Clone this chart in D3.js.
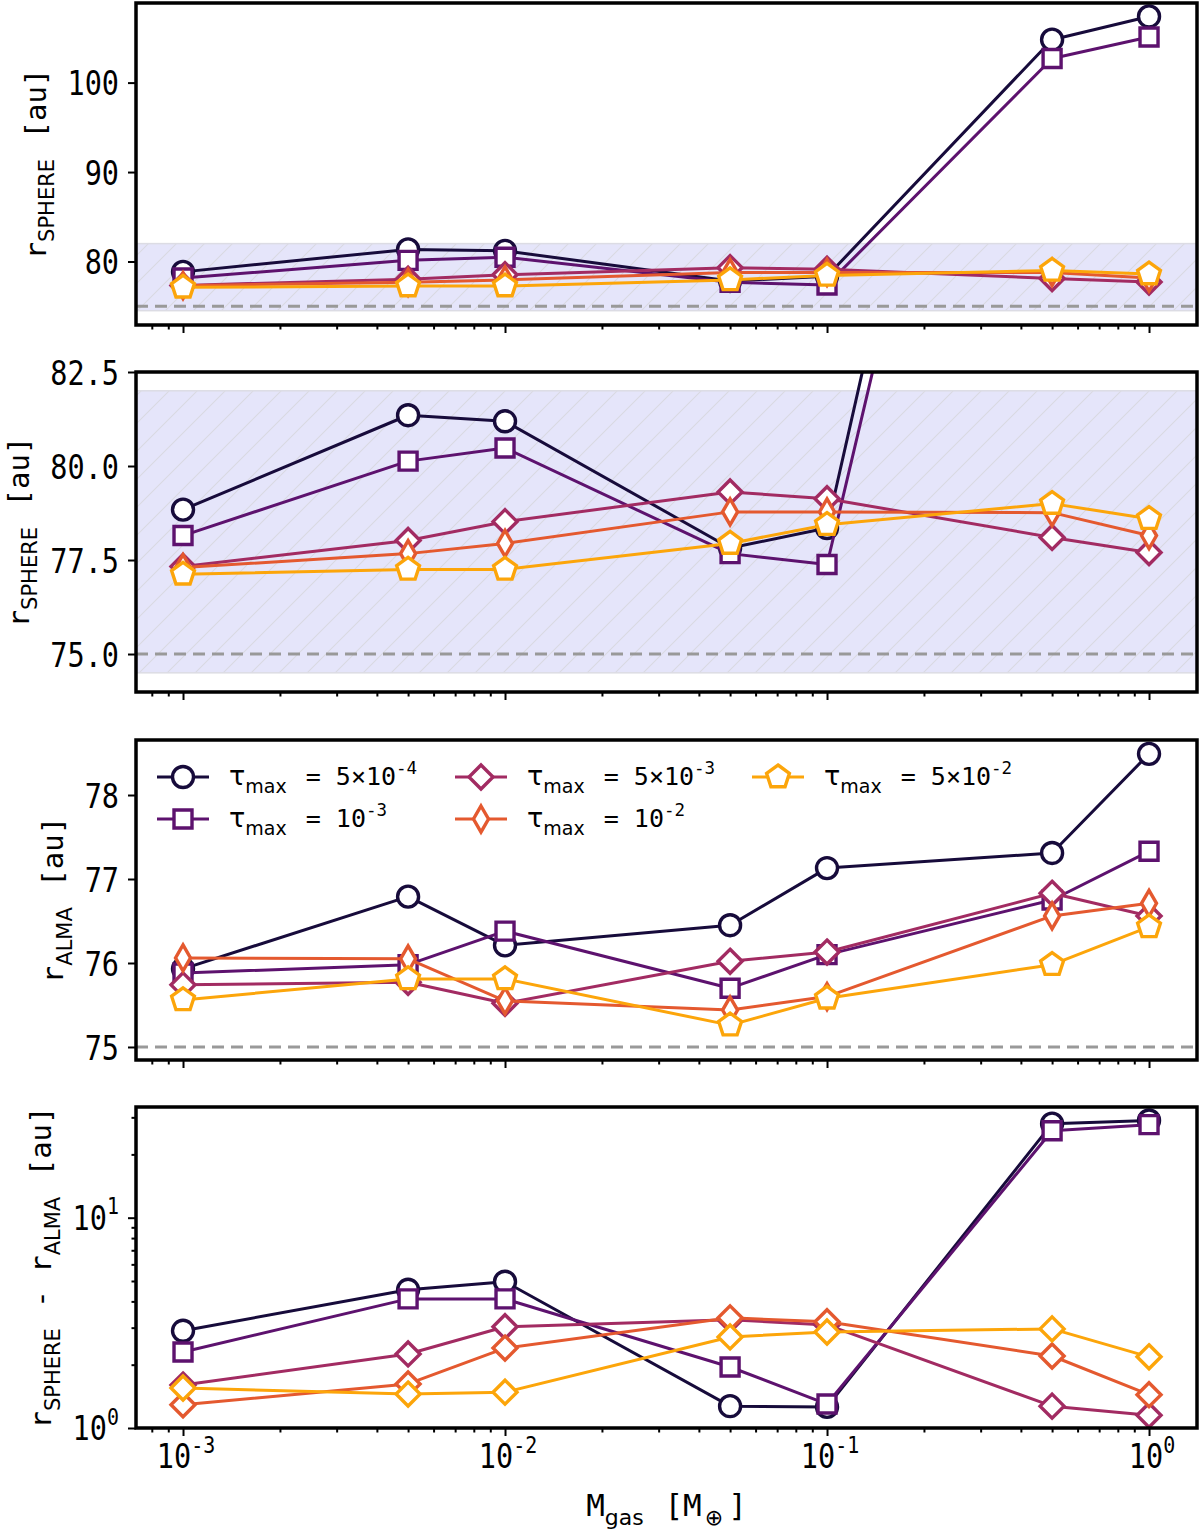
<!DOCTYPE html>
<html><head><meta charset="utf-8">
<script src="https://cdn.jsdelivr.net/npm/d3@7/dist/d3.min.js"></script>
<style>
body{margin:0;background:#fff}
svg{display:block}
text{font-family:"DejaVu Sans Mono",monospace;white-space:pre;fill:#000}
</style>
</head><body>
<svg id="c" width="1200" height="1533"></svg>
<script>
// ---------------- data ----------------
const massValues = [1e-3, 5e-3, 1e-2, 5e-2, 1e-1, 5e-1, 1];
const tauMantissa = ["5×", "", "5×", "", "5×"];
const tauExponent = ["-4", "-3", "-3", "-2", "-2"];
const seriesColors = ["#170b3b", "#5d126e", "#a22b62", "#e4592f", "#fca50a"];

// r_SPHERE [au]
const rSphere_5e4 = [78.84, 81.35, 81.19, 77.82, 78.35, 104.8, 107.4];
const rSphere_1e3 = [78.15, 80.13, 80.48, 77.67, 77.38, 102.7, 105.1];
const rSphere_5e3 = [77.33, 78.02, 78.52, 79.31, 79.13, 78.10, 77.70];
const rSphere_1e2 = [77.30, 77.67, 77.94, 78.78, 78.78, 78.76, 78.15];
const rSphere_5e2 = [77.12, 77.25, 77.25, 77.94, 78.44, 79.00, 78.60];

// r_ALMA [au]
const rAlma_5e4 = [75.93, 76.79, 76.21, 76.45, 77.13, 77.31, 78.49];
const rAlma_1e3 = [75.88, 75.98, 76.38, 75.70, 76.10, 76.75, 77.33];
const rAlma_5e3 = [75.74, 75.77, 75.52, 76.02, 76.13, 76.83, 76.56];
const rAlma_1e2 = [76.06, 76.05, 75.55, 75.44, 75.60, 76.56, 76.71];
const rAlma_5e2 = [75.56, 75.81, 75.81, 75.26, 75.58, 75.98, 76.43];

// r_SPHERE - r_ALMA [au]
const rDiff_5e4 = [2.90, 4.54, 4.96, 1.27, 1.26, 28.0, 29.0];
const rDiff_1e3 = [2.30, 4.11, 4.11, 1.95, 1.30, 25.9, 27.7];
const rDiff_5e3 = [1.60, 2.25, 3.03, 3.27, 3.09, 1.27, 1.15];
const rDiff_1e2 = [1.29, 1.62, 2.40, 3.34, 3.20, 2.20, 1.44];
const rDiff_5e2 = [1.55, 1.45, 1.48, 2.71, 2.86, 2.96, 2.18];

const sphereSeries = [rSphere_5e4, rSphere_1e3, rSphere_5e3, rSphere_1e2, rSphere_5e2];
const almaSeries = [rAlma_5e4, rAlma_1e3, rAlma_5e3, rAlma_1e2, rAlma_5e2];
const diffSeries = [rDiff_5e4, rDiff_1e3, rDiff_5e3, rDiff_1e2, rDiff_5e2];

const markersMain = ["o", "s", "D", "d", "p"];
const markersDiff = ["o", "s", "D", "D", "D"];

const innerDiskRadius = 75;      // dashed reference
const bandRange = [74.5, 82];     // shaded region

// ---------------- layout ----------------
const svg = d3.select("#c");
const axLeft = 136, axRight = 1197;
const x = d3.scaleLog().domain([Math.pow(10, -3.146), Math.pow(10, 0.149)]).range([axLeft, axRight]);

const defs = svg.append("defs");
const pat = defs.append("pattern").attr("id", "hatch").attr("patternUnits", "userSpaceOnUse")
  .attr("width", 28).attr("height", 28);
pat.append("path").attr("d", "M0,28 L28,0 M-7,7 L7,-7 M21,35 L35,21")
  .attr("stroke", "#d9d9e2").attr("stroke-width", 1.1);

const TICK_FS = 34, COND = 0.84;
const LW = 3, MSW = 3.4;
const SANS = "DejaVu Sans";

function rich(textSel, parts, size) {
  let shift = 0;
  parts.forEach(p => {
    const target = p.s === "sub" ? size * 0.3 : p.s === "sup" ? -size * 0.45 : 0;
    const ts = textSel.append("tspan").text(p.t)
      .attr("dy", target - shift)
      .attr("font-size", p.size || (p.s ? size * 0.7 : size));
    if (p.fam) ts.attr("font-family", p.fam);
    if (p.dx) ts.attr("dx", p.dx);
    shift = target;
  });
}

function markerPath(type) {
  switch (type) {
    case "s": { const h = 9; return `M${-h},${-h}H${h}V${h}H${-h}Z`; }
    case "D": { const h = 12; return `M0,${-h}L${h},0L0,${h}L${-h},0Z`; }
    case "d": { const h = 13, w = 7.5; return `M0,${-h}L${w},0L0,${h}L${-w},0Z`; }
    case "p": {
      const r = 12; let s = "";
      for (let i = 0; i < 5; i++) {
        const a = -Math.PI / 2 + i * 2 * Math.PI / 5;
        s += (i ? "L" : "M") + (r * Math.cos(a)).toFixed(2) + "," + (r * Math.sin(a)).toFixed(2);
      }
      return s + "Z";
    }
  }
}

function drawMarker(g, type, color, cx, cy) {
  if (type === "o") {
    g.append("circle").attr("cx", cx).attr("cy", cy).attr("r", 10.5)
      .attr("fill", "#fff").attr("stroke", color).attr("stroke-width", MSW);
  } else {
    g.append("path").attr("d", markerPath(type)).attr("transform", `translate(${cx},${cy})`)
      .attr("fill", "#fff").attr("stroke", color).attr("stroke-width", MSW).attr("stroke-linejoin", "miter");
  }
}

const panels = [
  { top: 3, bottom: 325, log: false, domain: [72.9, 108.9], ticks: [80, 90, 100], fmt: d => String(d),
    band: true, series: sphereSeries, markers: markersMain, label: "SPHERE" },
  { top: 372, bottom: 692, log: false, domain: [73.99, 82.5], ticks: [75, 77.5, 80, 82.5], fmt: d => d.toFixed(1),
    band: true, series: sphereSeries, markers: markersMain, label: "SPHERE" },
  { top: 740, bottom: 1060, log: false, domain: [74.845, 78.655], ticks: [75, 76, 77, 78], fmt: d => String(d),
    band: false, series: almaSeries, markers: markersMain, label: "ALMA", legend: true },
  { top: 1107, bottom: 1428, log: true, domain: [1, 33.6], ticks: [1, 10], exp: ["0", "1"],
    minor: [2, 3, 4, 5, 6, 7, 8, 9, 20, 30],
    band: false, series: diffSeries, markers: markersDiff, label: "DIFF" }
];

const xMajor = [1e-3, 1e-2, 1e-1, 1];
const xMinor = [];
for (let e = -4; e <= 0; e++) for (let m = 2; m <= 9; m++) {
  const v = m * Math.pow(10, e);
  if (v > x.domain()[0] && v < x.domain()[1]) xMinor.push(v);
}

panels.forEach((P, pi) => {
  const y = (P.log ? d3.scaleLog() : d3.scaleLinear()).domain(P.domain).range([P.bottom, P.top]);
  const g = svg.append("g");
  const clipId = "clip" + pi;
  defs.append("clipPath").attr("id", clipId).append("rect")
    .attr("x", axLeft).attr("y", P.top).attr("width", axRight - axLeft).attr("height", P.bottom - P.top);

  const plot = g.append("g").attr("clip-path", `url(#${clipId})`);
  if (P.band) {
    plot.append("rect").attr("x", axLeft).attr("width", axRight - axLeft)
      .attr("y", y(bandRange[1])).attr("height", y(bandRange[0]) - y(bandRange[1]))
      .attr("fill", "#e5e5fa");
    plot.append("rect").attr("x", axLeft).attr("width", axRight - axLeft)
      .attr("y", y(bandRange[1])).attr("height", y(bandRange[0]) - y(bandRange[1]))
      .attr("fill", "url(#hatch)").attr("stroke", "#dcdce4").attr("stroke-width", 1.5);
  }
  if (!P.log) {
    plot.append("line").attr("x1", axLeft).attr("x2", axRight)
      .attr("y1", y(innerDiskRadius)).attr("y2", y(innerDiskRadius))
      .attr("stroke", "#999").attr("stroke-width", 3).attr("stroke-dasharray", "12,7");
  }
  const line = d3.line().x(d => x(d[0])).y(d => y(d[1]));
  P.series.forEach((vals, si) => {
    const pts = massValues.map((m, i) => [m, vals[i]]);
    plot.append("path").attr("d", line(pts)).attr("fill", "none")
      .attr("stroke", seriesColors[si]).attr("stroke-width", LW).attr("stroke-linejoin", "round");
    pts.forEach(p => drawMarker(plot, P.markers[si], seriesColors[si], x(p[0]), y(p[1])));
  });

  // x ticks
  const xa = g.append("g").attr("transform", `translate(0,${P.bottom})`)
    .call(d3.axisBottom(x).tickValues(xMajor).tickSize(8).tickFormat(""));
  const xm = g.append("g").attr("transform", `translate(0,${P.bottom})`)
    .call(d3.axisBottom(x).tickValues(xMinor).tickSize(4.5).tickFormat(""));
  [xa, xm].forEach(a => { a.select(".domain").remove(); a.selectAll("line").attr("stroke", "#000").attr("stroke-width", 2); });

  // y ticks
  let ya;
  const tickTexts = [];
  if (!P.log) {
    ya = g.append("g").attr("transform", `translate(${axLeft},0)`)
      .call(d3.axisLeft(y).tickValues(P.ticks).tickSize(8).tickFormat(P.fmt));
    ya.selectAll("text").attr("font-family", null).attr("font-size", TICK_FS).attr("dy", "0.36em")
      .attr("x", 0).attr("transform", `translate(-17,0) scale(${COND},1)`)
      .each(function () { tickTexts.push(this); });
  } else {
    ya = g.append("g").attr("transform", `translate(${axLeft},0)`)
      .call(d3.axisLeft(y).tickValues(P.ticks).tickSize(8).tickFormat(""));
    const ym = g.append("g").attr("transform", `translate(${axLeft},0)`)
      .call(d3.axisLeft(y).tickValues(P.minor).tickSize(4.5).tickFormat(""));
    ym.select(".domain").remove();
    ym.selectAll("line").attr("stroke", "#000").attr("stroke-width", 2);
    P.ticks.forEach((t, i) => {
      const tx = g.append("text").attr("text-anchor", "end")
        .attr("transform", `translate(${axLeft - 17},${y(t) + 12}) scale(${COND},1)`);
      rich(tx, [{ t: "10" }, { t: P.exp[i], s: "sup" }], TICK_FS);
      tickTexts.push(tx.node());
    });
    // x tick labels
    const xlab = ["-3", "-2", "-1", "0"];
    xMajor.forEach((t, i) => {
      const tx = g.append("text").attr("text-anchor", "middle")
        .attr("transform", `translate(${x(t) + 3},${P.bottom + 40}) scale(${COND},1)`);
      rich(tx, [{ t: "10" }, { t: xlab[i], s: "sup" }], TICK_FS);
    });
    const xl = g.append("text").attr("x", (axLeft + axRight) / 2).attr("y", P.bottom + 88).attr("text-anchor", "middle");
    rich(xl, [{ t: "M" }, { t: "gas", s: "sub", fam: SANS, size: 22 }, { t: " [M", dx: 2 }, { t: "⊕", s: "sub", fam: SANS, size: 22, dx: 3 }, { t: "]", dx: 5 }], 31);
  }
  ya.select(".domain").remove();
  ya.selectAll("line").attr("stroke", "#000").attr("stroke-width", 2);

  // frame
  g.append("rect").attr("x", axLeft).attr("y", P.top).attr("width", axRight - axLeft).attr("height", P.bottom - P.top)
    .attr("fill", "none").attr("stroke", "#000").attr("stroke-width", 3.5);

  // y label, placed left of the tick labels
  const minX = d3.min(tickTexts, n => n.getBoundingClientRect().left);
  const lg = g.append("g");
  const lt = lg.append("text").attr("transform", "rotate(-90)").attr("text-anchor", "middle");
  const LFS = 29;
  if (P.label === "DIFF") {
    rich(lt, [{ t: "r" }, { t: "SPHERE", s: "sub", fam: SANS, size: 21 }, { t: " - r", dx: 3 },
      { t: "ALMA", s: "sub", fam: SANS, size: 21 }, { t: " [au]", dx: 3 }], LFS);
  } else {
    rich(lt, [{ t: "r" }, { t: P.label, s: "sub", fam: SANS, size: 21 }, { t: " [au]", dx: 3 }], LFS);
  }
  const r = lg.node().getBoundingClientRect();
  const cy = (P.top + P.bottom) / 2;
  lg.attr("transform", `translate(${minX - 8 - r.right},${cy - (r.top + r.height / 2)})`);

  // legend
  if (P.legend) {
    const cols = [157, 455, 752];
    const rows = [777, 819];
    seriesColors.forEach((c, si) => {
      const col = Math.floor(si / 2), row = si % 2;
      const lx = cols[col], ly = rows[row];
      const lgG = g.append("g");
      lgG.append("line").attr("x1", lx).attr("x2", lx + 52).attr("y1", ly).attr("y2", ly)
        .attr("stroke", c).attr("stroke-width", LW);
      drawMarker(lgG, markersMain[si], c, lx + 26, ly);
      const t = lgG.append("text").attr("x", lx + 72).attr("y", ly + 8);
      const parts = [{ t: "τ", fam: SANS, size: 27 }, { t: "max", s: "sub", fam: SANS, size: 19 },
        { t: " = " + tauMantissa[si] + "10", dx: 4 }, { t: tauExponent[si], s: "sup" }];
      rich(t, parts, 25);
    });
  }
});
</script>
</body></html>
